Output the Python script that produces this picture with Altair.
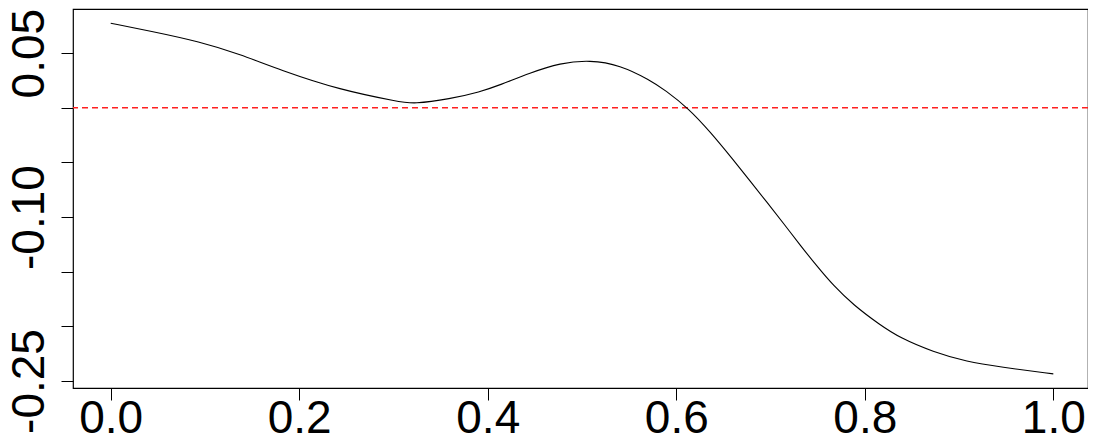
import altair as alt
import pandas as pd

# curve values
x_vals = [0.0, 0.0417, 0.0947, 0.1372, 0.1796, 0.2433, 0.3069, 0.3207, 0.3600, 0.3918,
          0.4130, 0.4448, 0.4767, 0.5085, 0.5403, 0.5721, 0.5880, 0.6128, 0.6358, 0.6605,
          0.6782, 0.6959, 0.7136, 0.7313, 0.7490, 0.7666, 0.7878, 0.8161, 0.8374, 0.8724,
          0.9085, 0.9435, 1.0]
y_vals = [0.0774, 0.0703, 0.0605, 0.0490, 0.0346, 0.0163, 0.0054, 0.0035, 0.0081, 0.0145,
          0.0209, 0.0319, 0.0410, 0.0437, 0.0392, 0.0254, 0.0163, -0.0004, -0.0218, -0.0477,
          -0.0669, -0.0861, -0.1056, -0.1255, -0.1447, -0.1626, -0.1804, -0.1987, -0.2106, -0.2234,
          -0.2325, -0.2371, -0.2435]

ref_level = [0.0]

x_ticks = [0.0, 0.2, 0.4, 0.6, 0.8, 1.0]
x_tick_labels = ["0.0", "0.2", "0.4", "0.6", "0.8", "1.0"]
y_ticks = [0.05, 0.0, -0.05, -0.10, -0.15, -0.20, -0.25]
y_tick_labels = ["0.05", "", "", "-0.10", "", "", "-0.25"]

x_domain = [-0.04, 1.0368]
y_domain = [-0.2564, 0.0904]

curve = pd.DataFrame({"x": x_vals, "y": y_vals})
ref = pd.DataFrame({"y": ref_level})


def label_expr(values, labels):
    expr = "''"
    for v, l in zip(reversed(values), reversed(labels)):
        expr = f"abs(datum.value - ({v})) < 1e-6 ? '{l}' : {expr}"
    return expr


FONT = "Liberation Sans"
FS = 46

x_scale = alt.Scale(domain=x_domain, nice=False, zero=False)
y_scale = alt.Scale(domain=y_domain, nice=False, zero=False)

x_axis = alt.Axis(values=x_ticks, labelExpr=label_expr(x_ticks, x_tick_labels),
                  title=None, grid=False, domain=False, tickColor="black",
                  tickSize=12, tickWidth=1, labelFont=FONT, labelFontSize=FS,
                  labelColor="black", labelBaseline="alphabetic", labelPadding=32,
                  labelFlush=False, labelOverlap=False)
y_axis = alt.Axis(values=y_ticks, labelExpr=label_expr(y_ticks, y_tick_labels),
                  title=None, grid=False, domain=False, tickColor="black",
                  tickSize=12, tickWidth=1, labelFont=FONT, labelFontSize=FS,
                  labelColor="black", labelAngle=270, labelAlign="center",
                  labelBaseline="alphabetic", labelPadding=18,
                  labelFlush=False, labelOverlap=False)

line = alt.Chart(curve).mark_line(color="black", strokeWidth=1.1,
                                  interpolate="basis").encode(
    x=alt.X("x:Q", scale=x_scale, axis=x_axis),
    y=alt.Y("y:Q", scale=y_scale, axis=y_axis),
)

hline = alt.Chart(ref).mark_rule(color="#FF2020", strokeWidth=1.5,
                                  strokeDash=[6, 4]).encode(
    y=alt.Y("y:Q", scale=y_scale),
)

chart = (
    alt.layer(hline, line)
    .properties(width=1015, height=379,
                background="white",
                padding={"left": 65, "top": 1, "right": 0, "bottom": 50},
                autosize=alt.AutoSizeParams(type="none"))
    .configure_view(stroke="black", strokeWidth=1.2)
)

chart.save("out.html", embed_options={"renderer": "svg", "actions": False})
